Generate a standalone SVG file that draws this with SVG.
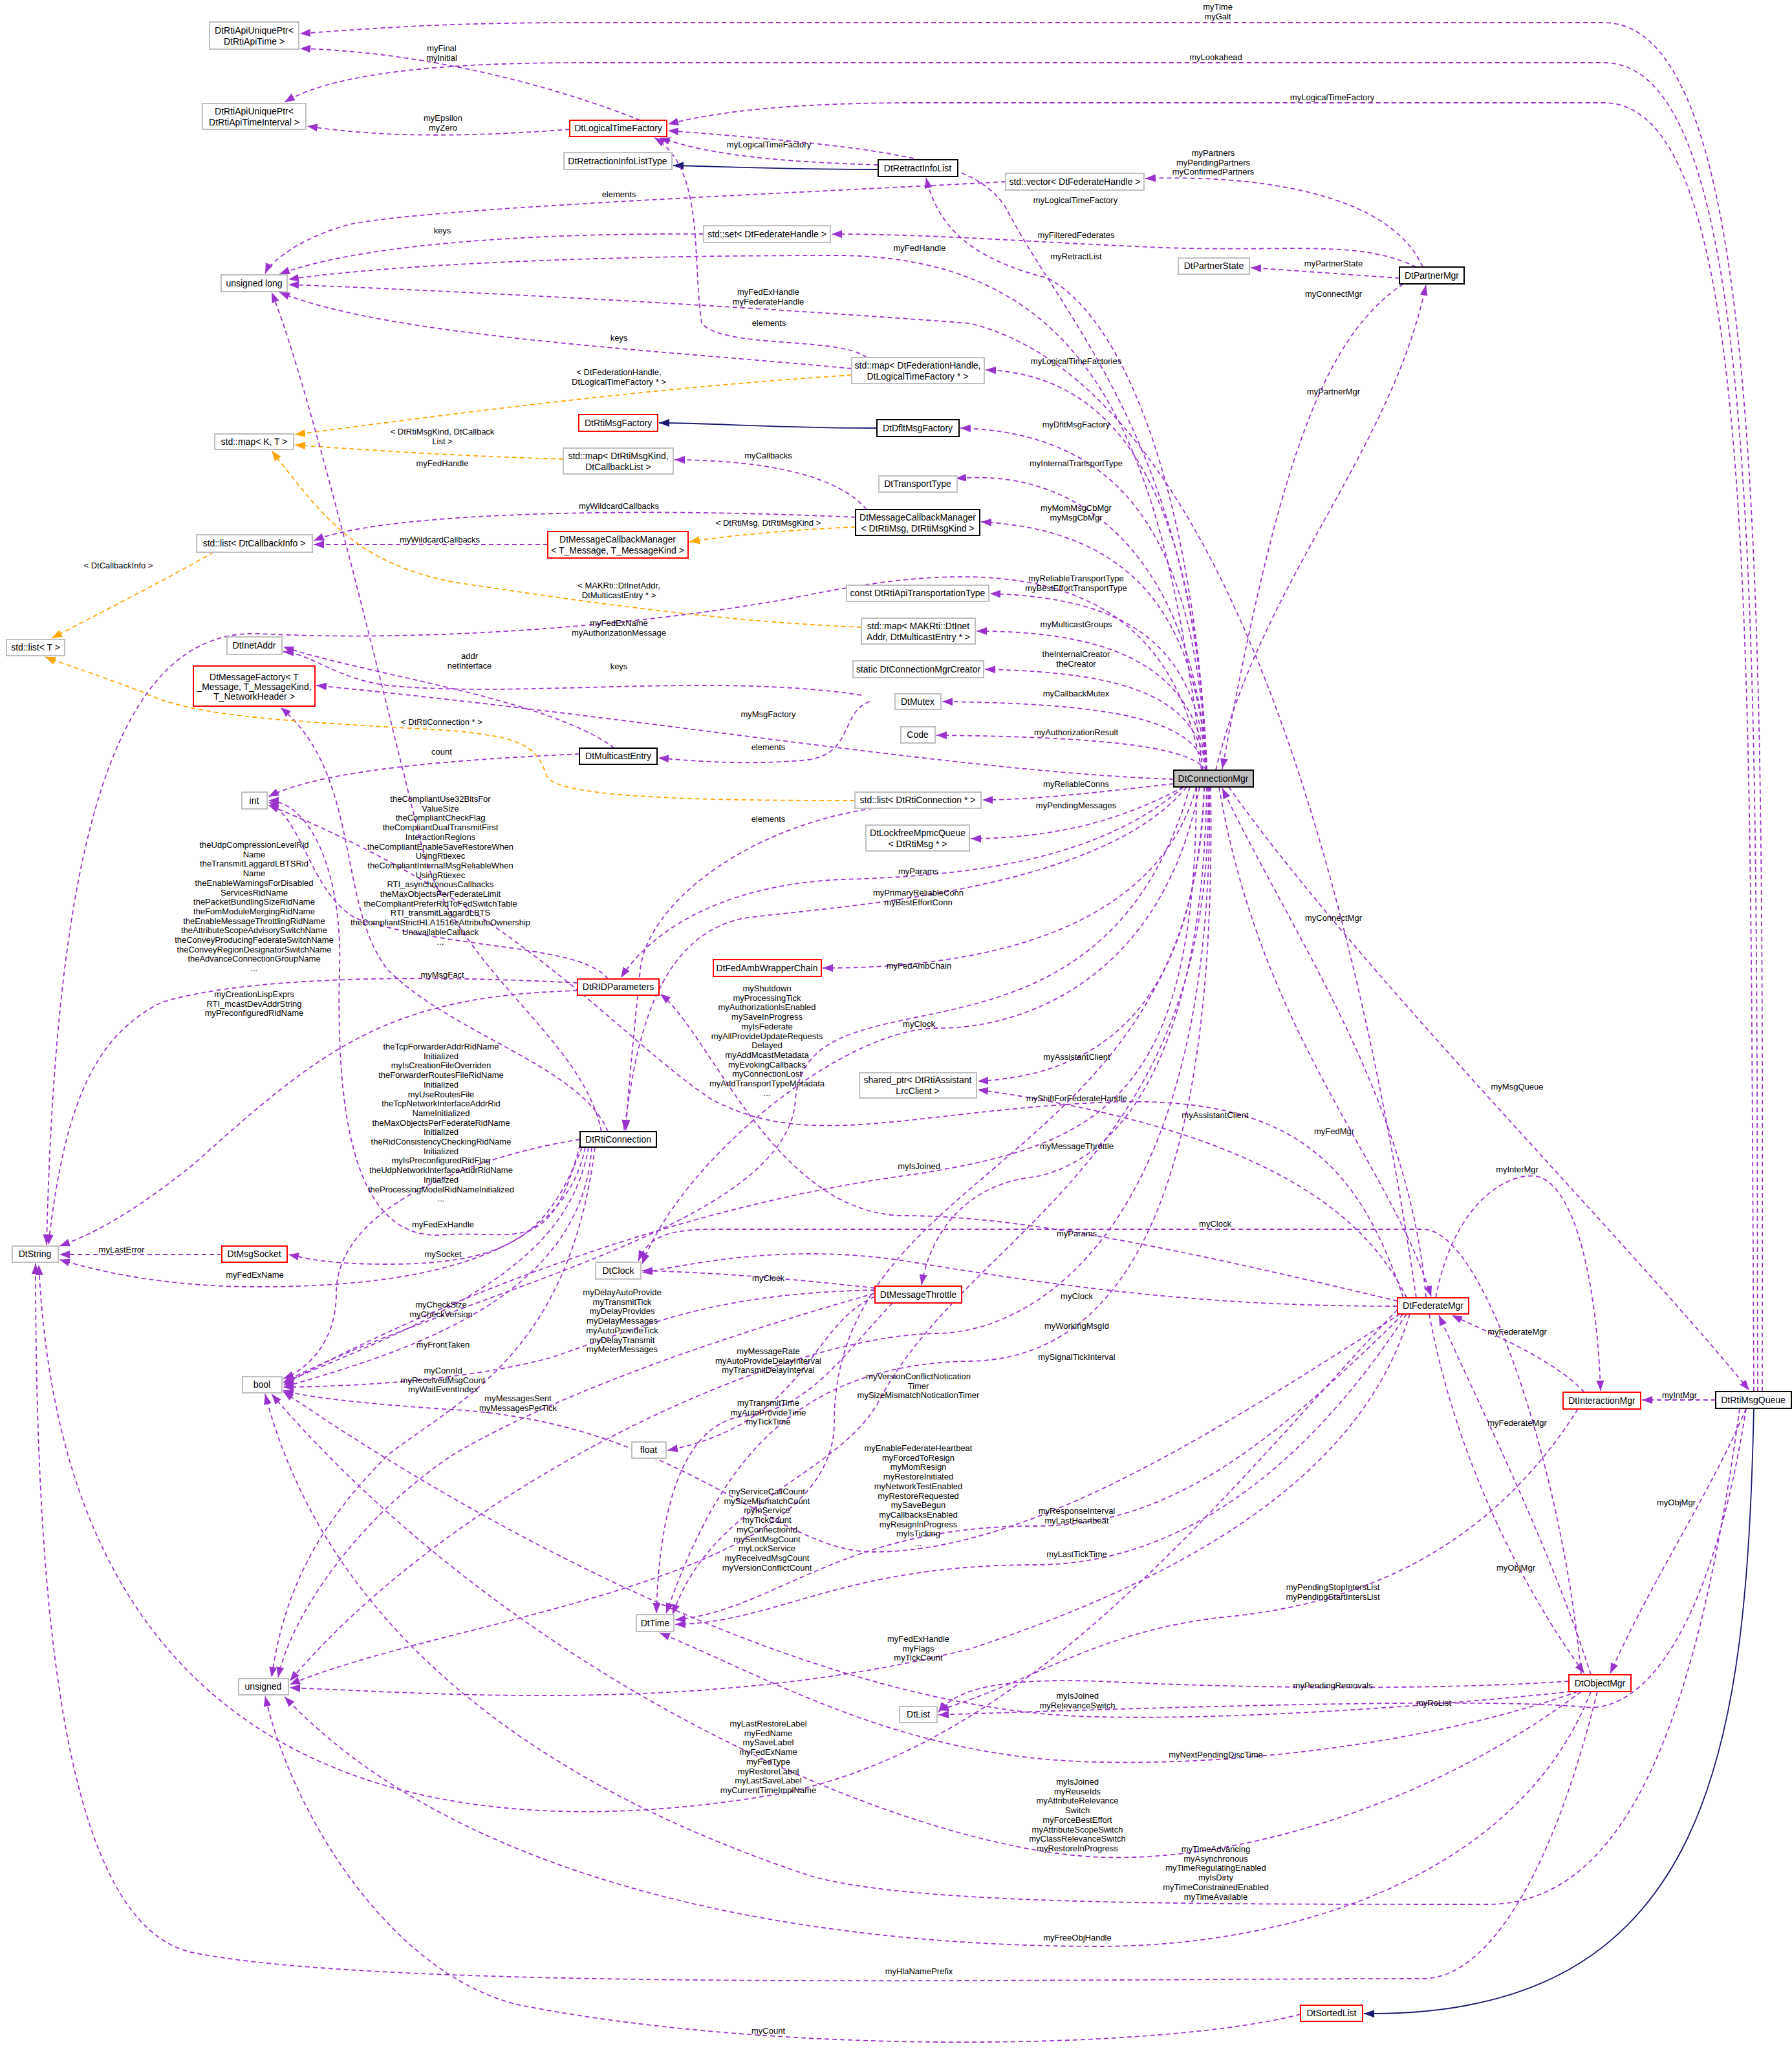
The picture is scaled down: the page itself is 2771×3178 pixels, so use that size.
<svg xmlns="http://www.w3.org/2000/svg" width="2771" height="3178" viewBox="0 0 2771 3178">
<style>
.bg{fill:#fff}
.n rect{fill:#fff;stroke:#bfbfbf;stroke-width:2}
.n.r rect{stroke:#ff0000}
.n.b rect{stroke:#000}
.n.g rect{stroke:#000;fill:#bfbfbf}
text{font-family:"Liberation Sans",Arial,sans-serif;text-anchor:middle;fill:#000}
.n text{font-size:14px}
.l{font-size:13px}
.e{fill:none;stroke:#9a32cd;stroke-width:1.8;stroke-dasharray:7,5;marker-end:url(#ap)}
.o{fill:none;stroke:#ffa500;stroke-width:1.8;stroke-dasharray:7,5;marker-end:url(#ao)}
.i{fill:none;stroke:#191970;stroke-width:1.8;marker-end:url(#ai)}
</style>
<defs>
<marker id="ap" markerUnits="userSpaceOnUse" markerWidth="18" markerHeight="14" refX="16" refY="6" orient="auto"><path d="M0,0 L16,6 L0,12 z" fill="#9a32cd"/></marker>
<marker id="ao" markerUnits="userSpaceOnUse" markerWidth="18" markerHeight="14" refX="16" refY="6" orient="auto"><path d="M0,0 L16,6 L0,12 z" fill="#ffa500"/></marker>
<marker id="ai" markerUnits="userSpaceOnUse" markerWidth="18" markerHeight="14" refX="16" refY="6" orient="auto"><path d="M0,0 L16,6 L0,12 z" fill="#191970"/></marker>
</defs>
<rect class="bg" x="0" y="0" width="2771" height="3178"/>
<g id="edges">
<path class="e" d="M2725,2152 C2725,1000 2740,35 2480,35 L900,35 C700,35 600,42 464,52"/>
<path class="e" d="M2718,2152 C2715,1000 2730,97 2480,97 L900,97 C700,97 520,110 440,158"/>
<path class="e" d="M2712,2152 C2705,1000 2720,159 2480,159 L1400,159 C1200,160 1100,175 1033,192"/>
<path class="e" d="M990,186 C850,130 650,80 464,75"/>
<path class="e" d="M881,200 C750,210 600,215 475,195"/>
<path class="e" d="M1358,255 C1200,250 1100,240 1020,213"/>
<path class="i" d="M1358,262 C1200,262 1100,257 1041,256"/>
<path class="e" d="M1555,281 C1200,300 700,320 550,345 C480,360 420,400 410,423"/>
<path class="e" d="M1088,362 C800,360 550,380 432,424"/>
<path class="e" d="M1860,1191 C1800,700 1700,400 1300,395 C900,395 600,410 446,432"/>
<path class="e" d="M2190,2007 C2100,1400 1900,600 1500,500 C1100,470 700,450 446,440"/>
<path class="e" d="M1317,570 C1000,540 600,520 432,452"/>
<path class="e" d="M1340,553 C1300,520 1120,540 1085,500 C1070,400 1090,260 1012,213"/>
<path class="o" d="M1317,580 C1000,600 700,640 456,672"/>
<path class="o" d="M871,710 C700,705 550,695 456,688"/>
<path class="i" d="M1356,662 C1200,662 1100,654 1019,654"/>
<path class="e" d="M1340,788 C1300,740 1200,712 1043,711"/>
<path class="e" d="M1323,800 C1000,785 600,790 485,836"/>
<path class="e" d="M847,842 C700,842 600,842 485,842"/>
<path class="o" d="M1323,815 C1200,820 1100,832 1066,838"/>
<path class="o" d="M330,854 C250,900 150,950 80,987"/>
<path class="e" d="M2200,413 C2150,300 1950,270 1771,276"/>
<path class="e" d="M2190,413 C2100,370 2000,390 1800,383 C1600,375 1450,362 1286,362"/>
<path class="e" d="M2164,430 C2100,426 2000,418 1934,414"/>
<path class="e" d="M2170,439 C2050,520 1980,700 1890,1189"/>
<path class="e" d="M1880,1191 C1950,900 2150,700 2205,441"/>
<path class="e" d="M1866,1191 C1850,800 1750,580 1524,572"/>
<path class="e" d="M1866,1191 C1850,850 1750,670 1485,662"/>
<path class="e" d="M1866,1191 C1850,900 1700,720 1478,740"/>
<path class="e" d="M1866,1191 C1850,950 1750,820 1517,807"/>
<path class="e" d="M1866,1191 C1850,1000 1750,925 1531,918"/>
<path class="e" d="M1866,1191 C1850,1050 1750,976 1510,976"/>
<path class="e" d="M1866,1191 C1850,1080 1750,1040 1523,1035"/>
<path class="e" d="M1866,1191 C1850,1120 1750,1088 1457,1085"/>
<path class="e" d="M1866,1191 C1840,1160 1750,1140 1448,1137"/>
<path class="e" d="M1815,1212 C1700,1225 1600,1237 1519,1237"/>
<path class="e" d="M1830,1217 C1750,1260 1650,1296 1501,1297"/>
<path class="e" d="M1866,1191 C1850,800 1750,500 1620,430 C1500,400 1450,350 1432,275"/>
<path class="e" d="M1866,1191 C1850,700 1650,500 1560,330 C1520,250 1400,230 1033,202"/>
<path class="e" d="M1858,1191 C1800,850 1500,870 1250,920 C1050,960 700,995 400,980 C150,970 85,1400 72,1925"/>
<path class="e" d="M1815,1205 C1500,1195 1000,1110 489,1060"/>
<path class="e" d="M1830,1217 C1700,1330 1500,1355 1300,1360 C1100,1370 1000,1450 960,1512"/>
<path class="e" d="M1835,1217 C1700,1380 1300,1400 1150,1420 C1000,1450 980,1650 965,1748"/>
<path class="e" d="M1850,1217 C1800,1400 1600,1497 1272,1497"/>
<path class="e" d="M1855,1217 C1800,1500 1600,1590 1450,1590 C1300,1590 1050,1800 993,1955"/>
<path class="e" d="M1862,1217 C1850,1500 1750,1660 1512,1672"/>
<path class="e" d="M1866,1217 C1860,1600 1750,1790 1600,1820 C1500,1830 1440,1900 1425,1987"/>
<path class="e" d="M1840,1217 C1700,1700 1250,1480 1230,1700 C1220,1900 700,2000 438,2138"/>
<path class="e" d="M1850,1217 C1850,1700 1700,1770 1421,1815 C1000,1870 600,2050 438,2142"/>
<path class="e" d="M1870,1217 C1880,1900 1600,2060 1450,2062 C1200,2065 700,2300 448,2600"/>
<path class="e" d="M1872,1217 C1880,1700 1800,2100 1500,2105 C1200,2110 1100,2300 1030,2495"/>
<path class="e" d="M1868,1217 C1880,1800 1500,1900 1360,2165 C1300,2280 1100,2320 1040,2497"/>
<path class="e" d="M1862,1217 C1850,1800 1290,1800 1290,2200 C1290,2450 700,2500 448,2605"/>
<path class="e" d="M940,1514 C900,1460 700,1470 550,1420 C480,1380 470,1270 415,1240"/>
<path class="e" d="M893,1520 C700,1510 400,1505 250,1550 C150,1600 100,1700 75,1925"/>
<path class="e" d="M893,1532 C600,1540 500,1620 300,1800 C200,1880 140,1910 92,1927"/>
<path class="e" d="M940,1750 C900,1650 700,1600 600,1500 C520,1400 560,1200 434,1094"/>
<path class="e" d="M897,1762 C780,1780 520,1850 520,2000 C520,2080 470,2120 438,2132"/>
<path class="e" d="M930,1750 C900,1600 700,1500 650,1300 C600,1100 480,600 420,452"/>
<path class="e" d="M897,1770 C850,1950 800,1900 680,1910 C540,1915 520,1700 525,1500 C530,1350 480,1240 415,1238"/>
<path class="e" d="M900,1774 C850,1900 800,1955 600,1955 C500,1955 470,1945 446,1940"/>
<path class="e" d="M343,1940 L92,1940"/>
<path class="e" d="M905,1774 C880,1900 750,1990 400,1990 C250,1990 150,1965 92,1948"/>
<path class="e" d="M910,1774 C880,1950 700,2030 438,2138"/>
<path class="e" d="M915,1774 C900,2000 650,2085 438,2145"/>
<path class="e" d="M920,1774 C880,2100 700,2170 600,2250 C500,2350 440,2450 420,2594"/>
<path class="e" d="M1353,1995 C1100,2000 1000,2050 850,2100 C700,2140 500,2145 438,2145"/>
<path class="e" d="M1353,2000 C1000,2100 800,2190 700,2250 C550,2350 450,2500 430,2594"/>
<path class="e" d="M1353,2005 C1250,2050 1250,2200 1032,2243"/>
<path class="e" d="M1380,2015 C1300,2100 1250,2180 1150,2190 C1070,2200 1020,2300 1015,2495"/>
<path class="e" d="M1353,1992 C1200,1975 1100,1968 993,1965"/>
<path class="e" d="M896,1166 C700,1175 500,1190 415,1232"/>
<path class="e" d="M950,1157 C850,1080 550,1040 438,1000"/>
<path class="e" d="M1332,1075 C1100,1040 800,1080 600,1060 C520,1050 480,1010 438,1008"/>
<path class="e" d="M1345,1085 C1300,1100 1320,1165 1250,1175 C1150,1185 1050,1175 1018,1172"/>
<path class="e" d="M1350,1250 C1150,1280 1000,1400 990,1500 C980,1600 970,1700 968,1748"/>
<path class="o" d="M1322,1238 C1100,1238 860,1235 845,1200 C830,1150 800,1140 700,1130 C450,1115 300,1110 220,1070 C140,1040 80,1020 70,1016"/>
<path class="o" d="M1332,970 C1100,960 900,930 700,900 C550,870 500,800 420,697"/>
<path class="e" d="M2170,2007 C2100,1800 2000,1690 1700,1705 C1400,1720 1250,1780 1100,1700 C950,1600 800,1400 415,1245"/>
<path class="e" d="M2175,2007 C2100,1850 1900,1740 1512,1685"/>
<path class="e" d="M2161,2012 C1900,1950 1600,1880 1400,1880 C1200,1880 1100,1600 1021,1537"/>
<path class="e" d="M2161,2020 C1900,2020 1700,2000 1400,1950 C1200,1920 1050,1960 993,1968"/>
<path class="e" d="M2165,2032 C1900,2200 1600,2400 1350,2400 C1200,2400 1050,2200 700,2180 C550,2170 470,2160 438,2150"/>
<path class="e" d="M2170,2032 C1950,2250 1800,2360 1600,2360 C1300,2360 1200,2490 1044,2505"/>
<path class="e" d="M2175,2032 C2000,2300 1800,2420 1600,2420 C1300,2420 1200,2510 1044,2512"/>
<path class="e" d="M2180,2032 C2100,2300 1800,2450 1500,2550 C1100,2650 700,2620 448,2610"/>
<path class="e" d="M2440,2179 C2300,2400 2100,2480 1900,2500 C1700,2520 1600,2600 1451,2645"/>
<path class="e" d="M2426,2600 C2200,2615 1900,2610 1700,2600 C1550,2595 1480,2610 1451,2648"/>
<path class="e" d="M2700,2178 C2650,2500 2550,2650 2450,2640 C2300,2625 1800,2640 1451,2652"/>
<path class="e" d="M2430,2616 C2200,2640 1900,2660 1700,2655 C1300,2650 800,2400 438,2152"/>
<path class="e" d="M2161,2025 C1900,2300 1600,2700 1200,2775 C700,2860 100,2780 60,1956"/>
<path class="e" d="M2440,2616 C2200,2700 1900,2730 1700,2725 C1400,2720 1200,2600 1020,2525"/>
<path class="e" d="M2445,2616 C2200,2800 1900,2880 1700,2872 C1400,2860 800,2600 420,2156"/>
<path class="e" d="M2690,2178 C2620,2700 2500,2945 2300,2945 C1800,2945 1400,2945 1250,2900 C800,2750 500,2500 410,2156"/>
<path class="e" d="M2460,2616 C2350,2900 2000,3010 1700,3010 C1200,3010 700,2900 440,2624"/>
<path class="e" d="M2470,2616 C2400,2900 2300,3060 2200,3060 C1600,3060 600,3080 300,3020 C100,2980 55,2500 55,1954"/>
<path class="e" d="M2011,3115 C1800,3170 1200,3180 800,3100 C600,3050 450,2800 410,2623"/>
<path class="i" d="M2712,2178 C2700,2700 2650,3120 2109,3114"/>
<path class="e" d="M1900,1217 C2100,1500 2500,1900 2705,2150"/>
<path class="e" d="M1885,1217 C1950,1600 2150,1800 2213,2005"/>
<path class="e" d="M2205,2007 C2180,1700 2000,1450 1890,1219"/>
<path class="e" d="M2220,2007 C2250,1850 2340,1810 2380,1820 C2440,1840 2470,2000 2475,2151"/>
<path class="e" d="M2450,2153 C2400,2100 2300,2060 2245,2034"/>
<path class="e" d="M2460,2590 C2400,2400 2300,2200 2225,2034"/>
<path class="e" d="M2210,2032 C2250,2250 2350,2450 2450,2588"/>
<path class="e" d="M2653,2165 L2539,2165"/>
<path class="e" d="M2700,2178 C2650,2300 2550,2450 2490,2588"/>
<path class="e" d="M2445,2590 C2420,2300 2300,1901 2200,1901 L1100,1901 C1020,1901 1000,1920 987,1950"/>
</g>
<g id="labels">
<text class="l" x="1883" y="15">myTime<tspan x="1883" dy="14.7">myGalt</tspan></text>
<text class="l" x="1880" y="93">myLookahead</text>
<text class="l" x="2060" y="155">myLogicalTimeFactory</text>
<text class="l" x="683" y="79">myFinal<tspan x="683" dy="14.7">myInitial</tspan></text>
<text class="l" x="685" y="187">myEpsilon<tspan x="685" dy="14.7">myZero</tspan></text>
<text class="l" x="1189" y="228">myLogicalTimeFactory</text>
<text class="l" x="1876" y="241">myPartners<tspan x="1876" dy="14.7">myPendingPartners</tspan><tspan x="1876" dy="14.7">myConfirmedPartners</tspan></text>
<text class="l" x="957" y="305">elements</text>
<text class="l" x="1663" y="314">myLogicalTimeFactory</text>
<text class="l" x="684" y="361">keys</text>
<text class="l" x="1664" y="368">myFilteredFederates</text>
<text class="l" x="1422" y="388">myFedHandle</text>
<text class="l" x="1664" y="401">myRetractList</text>
<text class="l" x="2062" y="412">myPartnerState</text>
<text class="l" x="1188" y="456">myFedExHandle<tspan x="1188" dy="14.7">myFederateHandle</tspan></text>
<text class="l" x="2062" y="459">myConnectMgr</text>
<text class="l" x="1189" y="504">elements</text>
<text class="l" x="957" y="527">keys</text>
<text class="l" x="1664" y="563">myLogicalTimeFactories</text>
<text class="l" x="957" y="580">&lt; DtFederationHandle,<tspan x="957" dy="14.7">DtLogicalTimeFactory * &gt;</tspan></text>
<text class="l" x="2062" y="610">myPartnerMgr</text>
<text class="l" x="1664" y="661">myDfltMsgFactory</text>
<text class="l" x="684" y="672">&lt; DtRtiMsgKind, DtCallback<tspan x="684" dy="14.7">List &gt;</tspan></text>
<text class="l" x="1188" y="709">myCallbacks</text>
<text class="l" x="684" y="721">myFedHandle</text>
<text class="l" x="1664" y="721">myInternalTransportType</text>
<text class="l" x="957" y="787">myWildcardCallbacks</text>
<text class="l" x="1664" y="790">myMomMsgCbMgr<tspan x="1664" dy="14.7">myMsgCbMgr</tspan></text>
<text class="l" x="1188" y="813">&lt; DtRtiMsg, DtRtiMsgKind &gt;</text>
<text class="l" x="680" y="839">myWildcardCallbacks</text>
<text class="l" x="183" y="879">&lt; DtCallbackInfo &gt;</text>
<text class="l" x="1664" y="899">myReliableTransportType<tspan x="1664" dy="14.7">myBestEffortTransportType</tspan></text>
<text class="l" x="957" y="910">&lt; MAKRti::DtInetAddr,<tspan x="957" dy="14.7">DtMulticastEntry * &gt;</tspan></text>
<text class="l" x="957" y="968">myFedExName<tspan x="957" dy="14.7">myAuthorizationMessage</tspan></text>
<text class="l" x="1664" y="970">myMulticastGroups</text>
<text class="l" x="726" y="1019">addr<tspan x="726" dy="14.7">netInterface</tspan></text>
<text class="l" x="1664" y="1016">theInternalCreator<tspan x="1664" dy="14.7">theCreator</tspan></text>
<text class="l" x="957" y="1035">keys</text>
<text class="l" x="1664" y="1077">myCallbackMutex</text>
<text class="l" x="1188" y="1109">myMsgFactory</text>
<text class="l" x="683" y="1121">&lt; DtRtiConnection * &gt;</text>
<text class="l" x="1664" y="1137">myAuthorizationResult</text>
<text class="l" x="1188" y="1160">elements</text>
<text class="l" x="683" y="1167">count</text>
<text class="l" x="1664" y="1217">myReliableConns</text>
<text class="l" x="1664" y="1250">myPendingMessages</text>
<text class="l" x="1188" y="1271">elements</text>
<text class="l" x="681" y="1240">theCompliantUse32BitsFor<tspan x="681" dy="14.7">ValueSize</tspan><tspan x="681" dy="14.7">theCompliantCheckFlag</tspan><tspan x="681" dy="14.7">theCompliantDualTransmitFirst</tspan><tspan x="681" dy="14.7">InteractionRegions</tspan><tspan x="681" dy="14.7">theCompliantEnableSaveRestoreWhen</tspan><tspan x="681" dy="14.7">UsingRtiexec</tspan><tspan x="681" dy="14.7">theCompliantInternalMsgReliableWhen</tspan><tspan x="681" dy="14.7">UsingRtiexec</tspan><tspan x="681" dy="14.7">RTI_asynchronousCallbacks</tspan><tspan x="681" dy="14.7">theMaxObjectsPerFederateLimit</tspan><tspan x="681" dy="14.7">theCompliantPreferRidToFedSwitchTable</tspan><tspan x="681" dy="14.7">RTI_transmitLaggardLBTS</tspan><tspan x="681" dy="14.7">theCompliantStrictHLA1516eAttributeOwnership</tspan><tspan x="681" dy="14.7">UnavailableCallback</tspan><tspan x="681" dy="14.7">...</tspan></text>
<text class="l" x="393" y="1311">theUdpCompressionLevelRid<tspan x="393" dy="14.7">Name</tspan><tspan x="393" dy="14.7">theTransmitLaggardLBTSRid</tspan><tspan x="393" dy="14.7">Name</tspan><tspan x="393" dy="14.7">theEnableWarningsForDisabled</tspan><tspan x="393" dy="14.7">ServicesRidName</tspan><tspan x="393" dy="14.7">thePacketBundlingSizeRidName</tspan><tspan x="393" dy="14.7">theFomModuleMergingRidName</tspan><tspan x="393" dy="14.7">theEnableMessageThrottlingRidName</tspan><tspan x="393" dy="14.7">theAttributeScopeAdvisorySwitchName</tspan><tspan x="393" dy="14.7">theConveyProducingFederateSwitchName</tspan><tspan x="393" dy="14.7">theConveyRegionDesignatorSwitchName</tspan><tspan x="393" dy="14.7">theAdvanceConnectionGroupName</tspan><tspan x="393" dy="14.7">...</tspan></text>
<text class="l" x="1420" y="1352">myParams</text>
<text class="l" x="1420" y="1385">myPrimaryReliableConn<tspan x="1420" dy="14.7">myBestEffortConn</tspan></text>
<text class="l" x="1421" y="1498">myFedAmbChain</text>
<text class="l" x="684" y="1512">myMsgFact</text>
<text class="l" x="1186" y="1533">myShutdown<tspan x="1186" dy="14.7">myProcessingTick</tspan><tspan x="1186" dy="14.7">myAuthorizationIsEnabled</tspan><tspan x="1186" dy="14.7">mySaveInProgress</tspan><tspan x="1186" dy="14.7">myIsFederate</tspan><tspan x="1186" dy="14.7">myAllProvideUpdateRequests</tspan><tspan x="1186" dy="14.7">Delayed</tspan><tspan x="1186" dy="14.7">myAddMcastMetadata</tspan><tspan x="1186" dy="14.7">myEvokingCallbacks</tspan><tspan x="1186" dy="14.7">myConnectionLost</tspan><tspan x="1186" dy="14.7">myAddTransportTypeMetadata</tspan><tspan x="1186" dy="14.7">...</tspan></text>
<text class="l" x="393" y="1542">myCreationLispExprs<tspan x="393" dy="14.7">RTI_mcastDevAddrString</tspan><tspan x="393" dy="14.7">myPreconfiguredRidName</tspan></text>
<text class="l" x="1421" y="1588">myClock</text>
<text class="l" x="1665" y="1639">myAssistantClient</text>
<text class="l" x="1665" y="1703">myShiftForFederateHandle</text>
<text class="l" x="1879" y="1729">myAssistantClient</text>
<text class="l" x="682" y="1623">theTcpForwarderAddrRidName<tspan x="682" dy="14.7">Initialized</tspan><tspan x="682" dy="14.7">myIsCreationFileOverriden</tspan><tspan x="682" dy="14.7">theForwarderRoutesFileRidName</tspan><tspan x="682" dy="14.7">Initialized</tspan><tspan x="682" dy="14.7">myUseRoutesFile</tspan><tspan x="682" dy="14.7">theTcpNetworkInterfaceAddrRid</tspan><tspan x="682" dy="14.7">NameInitialized</tspan><tspan x="682" dy="14.7">theMaxObjectsPerFederateRidName</tspan><tspan x="682" dy="14.7">Initialized</tspan><tspan x="682" dy="14.7">theRidConsistencyCheckingRidName</tspan><tspan x="682" dy="14.7">Initialized</tspan><tspan x="682" dy="14.7">myIsPreconfiguredRidFlag</tspan><tspan x="682" dy="14.7">theUdpNetworkInterfaceAddrRidName</tspan><tspan x="682" dy="14.7">Initialized</tspan><tspan x="682" dy="14.7">theProcessingModelRidNameInitialized</tspan><tspan x="682" dy="14.7">...</tspan></text>
<text class="l" x="1665" y="1777">myMessageThrottle</text>
<text class="l" x="1421" y="1808">myIsJoined</text>
<text class="l" x="1879" y="1897">myClock</text>
<text class="l" x="685" y="1898">myFedExHandle</text>
<text class="l" x="1665" y="1912">myParams</text>
<text class="l" x="188" y="1937">myLastError</text>
<text class="l" x="685" y="1944">mySocket</text>
<text class="l" x="394" y="1976">myFedExName</text>
<text class="l" x="1188" y="1981">myClock</text>
<text class="l" x="962" y="2003">myDelayAutoProvide<tspan x="962" dy="14.7">myTransmitTick</tspan><tspan x="962" dy="14.7">myDelayProvides</tspan><tspan x="962" dy="14.7">myDelayMessages</tspan><tspan x="962" dy="14.7">myAutoProvideTick</tspan><tspan x="962" dy="14.7">myDelayTransmit</tspan><tspan x="962" dy="14.7">myMeterMessages</tspan></text>
<text class="l" x="1665" y="2009">myClock</text>
<text class="l" x="682" y="2022">myCheckSize<tspan x="682" dy="14.7">myCheckVersion</tspan></text>
<text class="l" x="1665" y="2055">myWorkingMsgId</text>
<text class="l" x="685" y="2084">myFrontTaken</text>
<text class="l" x="1188" y="2094">myMessageRate<tspan x="1188" dy="14.7">myAutoProvideDelayInterval</tspan><tspan x="1188" dy="14.7">myTransmitDelayInterval</tspan></text>
<text class="l" x="1665" y="2103">mySignalTickInterval</text>
<text class="l" x="685" y="2124">myConnId<tspan x="685" dy="14.7">myReceivedMsgCount</tspan><tspan x="685" dy="14.7">myWaitEventIndex</tspan></text>
<text class="l" x="1420" y="2133">myVersionConflictNotication<tspan x="1420" dy="14.7">Timer</tspan><tspan x="1420" dy="14.7">mySizeMismatchNoticationTimer</tspan></text>
<text class="l" x="801" y="2167">myMessagesSent<tspan x="801" dy="14.7">myMessagesPerTick</tspan></text>
<text class="l" x="1188" y="2174">myTransmitTime<tspan x="1188" dy="14.7">myAutoProvideTime</tspan><tspan x="1188" dy="14.7">myTickTime</tspan></text>
<text class="l" x="1420" y="2244">myEnableFederateHeartbeat<tspan x="1420" dy="14.7">myForcedToResign</tspan><tspan x="1420" dy="14.7">myMomResign</tspan><tspan x="1420" dy="14.7">myRestoreInitiated</tspan><tspan x="1420" dy="14.7">myNetworkTestEnabled</tspan><tspan x="1420" dy="14.7">myRestoreRequested</tspan><tspan x="1420" dy="14.7">mySaveBegun</tspan><tspan x="1420" dy="14.7">myCallbacksEnabled</tspan><tspan x="1420" dy="14.7">myResignInProgress</tspan><tspan x="1420" dy="14.7">myIsTicking</tspan><tspan x="1420" dy="14.7">...</tspan></text>
<text class="l" x="1186" y="2311">myServiceCallCount<tspan x="1186" dy="14.7">mySizeMismatchCount</tspan><tspan x="1186" dy="14.7">myInService</tspan><tspan x="1186" dy="14.7">myTickCount</tspan><tspan x="1186" dy="14.7">myConnectionId</tspan><tspan x="1186" dy="14.7">mySentMsgCount</tspan><tspan x="1186" dy="14.7">myLockService</tspan><tspan x="1186" dy="14.7">myReceivedMsgCount</tspan><tspan x="1186" dy="14.7">myVersionConflictCount</tspan></text>
<text class="l" x="1665" y="2341">myResponseInterval<tspan x="1665" dy="14.7">myLastHeartbeat</tspan></text>
<text class="l" x="1665" y="2408">myLastTickTime</text>
<text class="l" x="2061" y="2459">myPendingStopIntersList<tspan x="2061" dy="14.7">myPendingStartIntersList</tspan></text>
<text class="l" x="1420" y="2539">myFedExHandle<tspan x="1420" dy="14.7">myFlags</tspan><tspan x="1420" dy="14.7">myTickCount</tspan></text>
<text class="l" x="2061" y="2611">myPendingRemovals</text>
<text class="l" x="1666" y="2627">myIsJoined<tspan x="1666" dy="14.7">myRelevanceSwitch</tspan></text>
<text class="l" x="2217" y="2638">myRoList</text>
<text class="l" x="1188" y="2670">myLastRestoreLabel<tspan x="1188" dy="14.7">myFedName</tspan><tspan x="1188" dy="14.7">mySaveLabel</tspan><tspan x="1188" dy="14.7">myFedExName</tspan><tspan x="1188" dy="14.7">myFedType</tspan><tspan x="1188" dy="14.7">myRestoreLabel</tspan><tspan x="1188" dy="14.7">myLastSaveLabel</tspan><tspan x="1188" dy="14.7">myCurrentTimeImplName</tspan></text>
<text class="l" x="1880" y="2718">myNextPendingDiscTime</text>
<text class="l" x="1666" y="2760">myIsJoined<tspan x="1666" dy="14.7">myReuseIds</tspan><tspan x="1666" dy="14.7">myAttributeRelevance</tspan><tspan x="1666" dy="14.7">Switch</tspan><tspan x="1666" dy="14.7">myForceBestEffort</tspan><tspan x="1666" dy="14.7">myAttributeScopeSwitch</tspan><tspan x="1666" dy="14.7">myClassRelevanceSwitch</tspan><tspan x="1666" dy="14.7">myRestoreInProgress</tspan></text>
<text class="l" x="1880" y="2864">myTimeAdvancing<tspan x="1880" dy="14.7">myAsynchronous</tspan><tspan x="1880" dy="14.7">myTimeRegulatingEnabled</tspan><tspan x="1880" dy="14.7">myIsDirty</tspan><tspan x="1880" dy="14.7">myTimeConstrainedEnabled</tspan><tspan x="1880" dy="14.7">myTimeAvailable</tspan></text>
<text class="l" x="1666" y="3001">myFreeObjHandle</text>
<text class="l" x="1421" y="3053">myHlaNamePrefix</text>
<text class="l" x="1188" y="3145">myCount</text>
<text class="l" x="2062" y="1424">myConnectMgr</text>
<text class="l" x="2346" y="1685">myMsgQueue</text>
<text class="l" x="2063" y="1754">myFedMgr</text>
<text class="l" x="2346" y="1813">myInterMgr</text>
<text class="l" x="2346" y="2064">myFederateMgr</text>
<text class="l" x="2346" y="2205">myFederateMgr</text>
<text class="l" x="2597" y="2162">myIntMgr</text>
<text class="l" x="2344" y="2429">myObjMgr</text>
<text class="l" x="2592" y="2328">myObjMgr</text>
</g>
<g id="n1" class="n"><rect x="324" y="34" width="138" height="42"/><text x="393" y="52">DtRtiApiUniquePtr&lt;</text><text x="393" y="69">DtRtiApiTime &gt;</text></g>
<g id="n2" class="n"><rect x="313" y="160" width="160" height="40"/><text x="393" y="177">DtRtiApiUniquePtr&lt;</text><text x="393" y="194">DtRtiApiTimeInterval &gt;</text></g>
<g id="n3" class="n r"><rect x="881" y="186" width="150" height="25"/><text x="956" y="203">DtLogicalTimeFactory</text></g>
<g id="n4" class="n"><rect x="872" y="236" width="167" height="26"/><text x="955" y="254">DtRetractionInfoListType</text></g>
<g id="n5" class="n"><rect x="342" y="425" width="102" height="26"/><text x="393" y="443">unsigned long</text></g>
<g id="n6" class="n"><rect x="332" y="671" width="122" height="24"/><text x="393" y="688">std::map&lt; K, T &gt;</text></g>
<g id="n7" class="n r"><rect x="895" y="641" width="122" height="26"/><text x="956" y="659">DtRtiMsgFactory</text></g>
<g id="n8" class="n"><rect x="871" y="693" width="170" height="40"/><text x="956" y="710">std::map&lt; DtRtiMsgKind,</text><text x="956" y="727">DtCallbackList &gt;</text></g>
<g id="n9" class="n b"><rect x="1358" y="247" width="123" height="26"/><text x="1419" y="265">DtRetractInfoList</text></g>
<g id="n10" class="n"><rect x="1555" y="268" width="214" height="26"/><text x="1662" y="286">std::vector&lt; DtFederateHandle &gt;</text></g>
<g id="n11" class="n"><rect x="1088" y="349" width="196" height="26"/><text x="1186" y="367">std::set&lt; DtFederateHandle &gt;</text></g>
<g id="n12" class="n"><rect x="1822" y="399" width="110" height="25"/><text x="1877" y="416">DtPartnerState</text></g>
<g id="n13" class="n b"><rect x="2164" y="413" width="100" height="26"/><text x="2214" y="431">DtPartnerMgr</text></g>
<g id="n14" class="n"><rect x="1317" y="553" width="205" height="40"/><text x="1419" y="570">std::map&lt; DtFederationHandle,</text><text x="1419" y="587">DtLogicalTimeFactory * &gt;</text></g>
<g id="n15" class="n b"><rect x="1356" y="649" width="127" height="26"/><text x="1419" y="667">DtDfltMsgFactory</text></g>
<g id="n16" class="n"><rect x="1359" y="736" width="121" height="25"/><text x="1419" y="753">DtTransportType</text></g>
<g id="n17" class="n b"><rect x="1323" y="788" width="192" height="40"/><text x="1419" y="805">DtMessageCallbackManager</text><text x="1419" y="822">&lt; DtRtiMsg, DtRtiMsgKind &gt;</text></g>
<g id="n18" class="n r"><rect x="847" y="822" width="217" height="41"/><text x="955" y="839">DtMessageCallbackManager</text><text x="955" y="856">&lt; T_Message, T_MessageKind &gt;</text></g>
<g id="n19" class="n"><rect x="304" y="827" width="179" height="27"/><text x="393" y="845">std::list&lt; DtCallbackInfo &gt;</text></g>
<g id="n20" class="n"><rect x="10" y="989" width="90" height="25"/><text x="55" y="1006">std::list&lt; T &gt;</text></g>
<g id="n21" class="n"><rect x="351" y="985" width="85" height="27"/><text x="393" y="1003">DtInetAddr</text></g>
<g id="n22" class="n"><rect x="1309" y="905" width="220" height="25"/><text x="1419" y="922">const DtRtiApiTransportationType</text></g>
<g id="n23" class="n"><rect x="1332" y="956" width="176" height="40"/><text x="1420" y="973">std::map&lt; MAKRti::DtInet</text><text x="1420" y="990">Addr, DtMulticastEntry * &gt;</text></g>
<g id="n24" class="n"><rect x="1319" y="1022" width="202" height="26"/><text x="1420" y="1040">static DtConnectionMgrCreator</text></g>
<g id="n25" class="n"><rect x="1384" y="1073" width="71" height="24"/><text x="1419" y="1090">DtMutex</text></g>
<g id="n26" class="n"><rect x="1393" y="1124" width="53" height="25"/><text x="1419" y="1141">Code</text></g>
<g id="n27" class="n g"><rect x="1815" y="1191" width="123" height="26"/><text x="1876" y="1209">DtConnectionMgr</text></g>
<g id="n28" class="n b"><rect x="896" y="1157" width="120" height="25"/><text x="956" y="1174">DtMulticastEntry</text></g>
<g id="n29" class="n r"><rect x="299" y="1030" width="188" height="62"/><text x="393" y="1052">DtMessageFactory&lt; T</text><text x="393" y="1067">_Message, T_MessageKind,</text><text x="393" y="1082">T_NetworkHeader &gt;</text></g>
<g id="n30" class="n"><rect x="1322" y="1225" width="195" height="25"/><text x="1419" y="1242">std::list&lt; DtRtiConnection * &gt;</text></g>
<g id="n31" class="n"><rect x="374" y="1225" width="39" height="26"/><text x="393" y="1243">int</text></g>
<g id="n32" class="n"><rect x="1339" y="1276" width="160" height="40"/><text x="1419" y="1293">DtLockfreeMpmcQueue</text><text x="1419" y="1310">&lt; DtRtiMsg * &gt;</text></g>
<g id="n33" class="n r"><rect x="1103" y="1484" width="167" height="26"/><text x="1186" y="1502">DtFedAmbWrapperChain</text></g>
<g id="n34" class="n r"><rect x="893" y="1514" width="126" height="25"/><text x="956" y="1531">DtRIDParameters</text></g>
<g id="n35" class="n"><rect x="1329" y="1659" width="181" height="39"/><text x="1419" y="1675">shared_ptr&lt; DtRtiAssistant</text><text x="1419" y="1692">LrcClient &gt;</text></g>
<g id="n36" class="n b"><rect x="897" y="1750" width="118" height="24"/><text x="956" y="1767">DtRtiConnection</text></g>
<g id="n37" class="n"><rect x="19" y="1927" width="71" height="25"/><text x="54" y="1944">DtString</text></g>
<g id="n38" class="n r"><rect x="343" y="1927" width="101" height="25"/><text x="393" y="1944">DtMsgSocket</text></g>
<g id="n39" class="n"><rect x="921" y="1952" width="70" height="26"/><text x="956" y="1970">DtClock</text></g>
<g id="n40" class="n r"><rect x="1353" y="1989" width="134" height="26"/><text x="1420" y="2007">DtMessageThrottle</text></g>
<g id="n41" class="n r"><rect x="2161" y="2007" width="110" height="25"/><text x="2216" y="2024">DtFederateMgr</text></g>
<g id="n42" class="n r"><rect x="2417" y="2153" width="120" height="26"/><text x="2477" y="2171">DtInteractionMgr</text></g>
<g id="n43" class="n b"><rect x="2653" y="2152" width="117" height="26"/><text x="2711" y="2170">DtRtiMsgQueue</text></g>
<g id="n44" class="n"><rect x="375" y="2129" width="61" height="25"/><text x="405" y="2146">bool</text></g>
<g id="n45" class="n"><rect x="977" y="2230" width="53" height="25"/><text x="1003" y="2247">float</text></g>
<g id="n46" class="n"><rect x="984" y="2497" width="58" height="26"/><text x="1013" y="2515">DtTime</text></g>
<g id="n47" class="n"><rect x="369" y="2596" width="77" height="25"/><text x="407" y="2613">unsigned</text></g>
<g id="n48" class="n"><rect x="1391" y="2639" width="58" height="25"/><text x="1420" y="2656">DtList</text></g>
<g id="n49" class="n r"><rect x="2426" y="2590" width="96" height="26"/><text x="2474" y="2608">DtObjectMgr</text></g>
<g id="n50" class="n r"><rect x="2011" y="3101" width="96" height="25"/><text x="2059" y="3118">DtSortedList</text></g>
</svg>
